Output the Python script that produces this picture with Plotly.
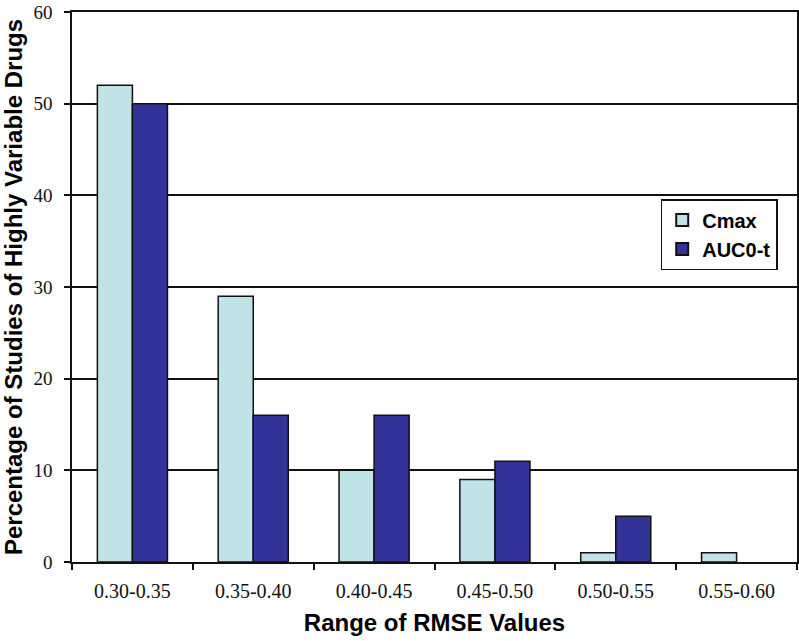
import plotly.graph_objects as go

categories = ["0.30-0.35", "0.35-0.40", "0.40-0.45", "0.45-0.50", "0.50-0.55", "0.55-0.60"]
cmax = [52, 29, 10, 9, 1, 1]
auc = [50, 16, 16, 11, 5, 0]
y_ticks = [0, 10, 20, 30, 40, 50, 60]

auc_line_w = [0 if v == 0 else 1.5 for v in auc]

fig = go.Figure()
fig.add_trace(go.Bar(x=categories, y=cmax, name="Cmax",
                     marker=dict(color="#BFE3E6", line=dict(color="#111111", width=1.5))))
fig.add_trace(go.Bar(x=categories, y=auc, name="AUC0-t",
                     marker=dict(color="#333399", line=dict(color="#111111", width=auc_line_w))))

fig.update_layout(
    width=799, height=641,
    margin=dict(l=72, r=2, t=12, b=79),
    paper_bgcolor="white", plot_bgcolor="white",
    barmode="group", bargap=0.42, bargroupgap=0,
    showlegend=True,
    legend=dict(x=0.812, y=0.66, xanchor="left", yanchor="top",
                bordercolor="#111111", borderwidth=1.5, bgcolor="white",
                font=dict(family="Arial, Liberation Sans", size=20, color="#000000", weight="bold"),
                itemsizing="constant", tracegroupgap=10),
    xaxis=dict(
        type="category", tickson="boundaries", ticks="outside", ticklen=6,
        tickcolor="#111111", tickwidth=1.5, automargin=False,
        showline=True, linecolor="#111111", linewidth=1.5, mirror=True,
        ticklabelstandoff=10, ticklabeloverflow="allow",
        tickfont=dict(family="Liberation Serif, Times New Roman", size=20, color="#111111"),
        title=dict(text="<b>Range of RMSE Values</b>", standoff=13,
                   font=dict(family="Arial, Liberation Sans", size=24, color="#000000")),
    ),
    yaxis=dict(
        range=[0, 60], tickvals=y_ticks, ticks="outside", ticklen=6,
        tickcolor="#111111", tickwidth=1.5, automargin=False,
        showline=True, linecolor="#111111", linewidth=1.5, mirror=True,
        showgrid=True, gridcolor="#111111", gridwidth=1.5,
        zeroline=False, ticklabelstandoff=8, ticklabeloverflow="allow",
        tickfont=dict(family="Liberation Serif, Times New Roman", size=19, color="#111111"),
        title=dict(text="<b>Percentage of Studies of Highly Variable Drugs</b>", standoff=10,
                   font=dict(family="Arial, Liberation Sans", size=24, color="#000000")),
    ),
)

fig.write_html("out.html", config={"displayModeBar": False},
               post_script="document.body.style.margin='0';")
